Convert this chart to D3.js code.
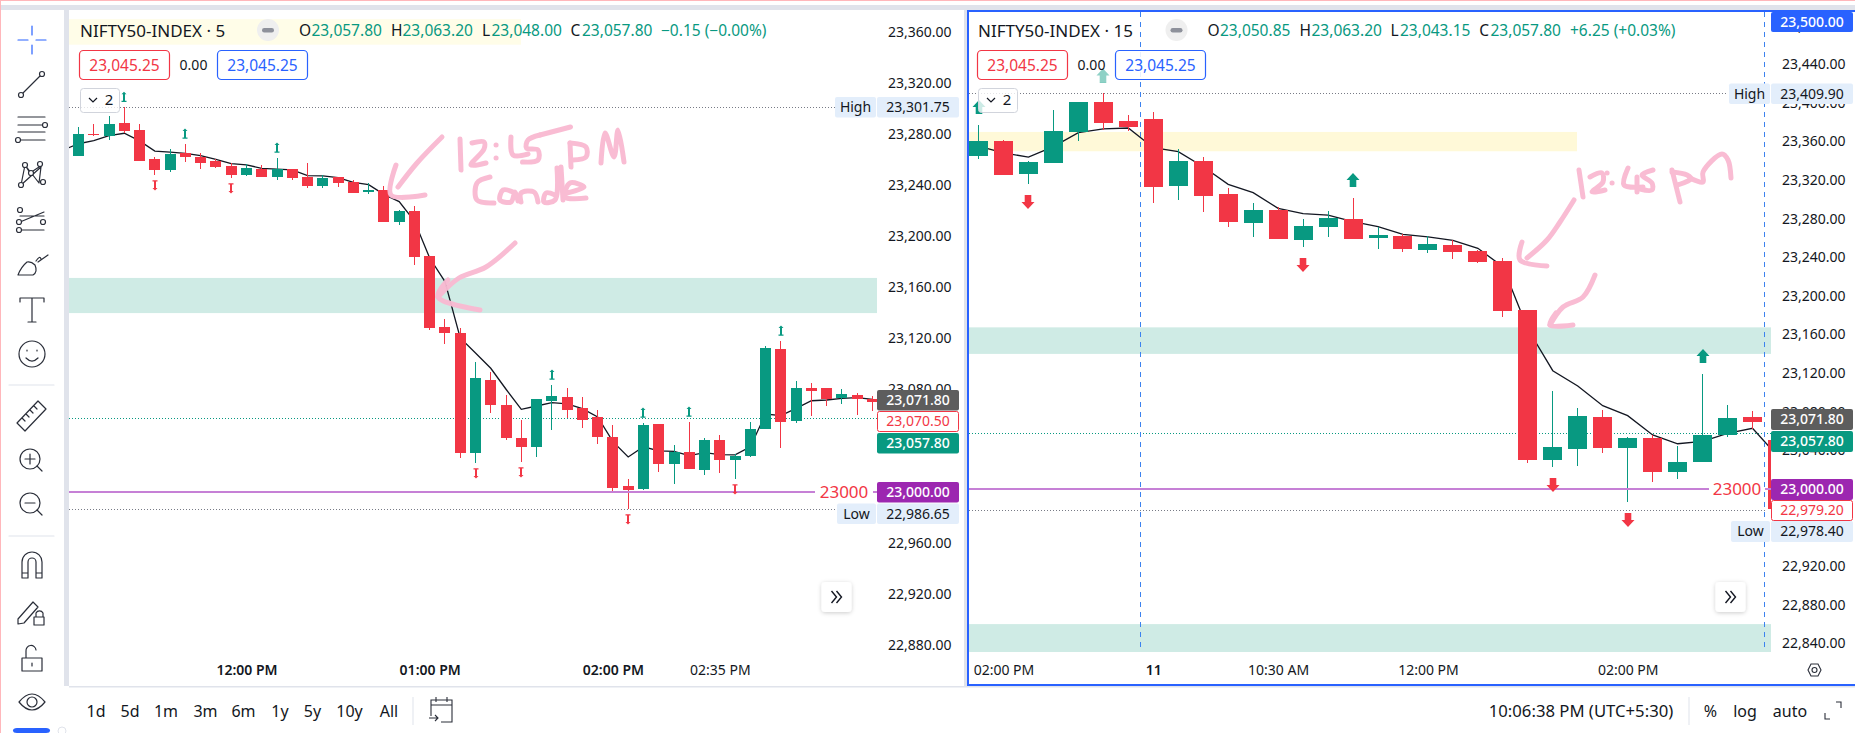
<!DOCTYPE html>
<html><head><meta charset="utf-8">
<script src="https://cdn.jsdelivr.net/npm/d3@7/dist/d3.min.js"></script>
<style>
html,body{margin:0;padding:0;background:#fff;overflow:hidden}
svg{display:block}
text{font-family:"Noto Sans",sans-serif;fill:#131722}
</style></head><body>
<svg id="c" width="1855" height="733"></svg>
<script>
// ---------- data: 5 minute pane ----------
const leftOpen=[23263.2,23279.9,23278.6,23288.7,23283.3,23260.6,23252,23265,23262.1,23259,23255.1,23248,23252.7,23246.5,23252.7,23246.5,23239.4,23246.5,23242.6,23235,23236.3,23211.3,23219.9,23184.7,23129.1,23124.4,23030.5,23087.6,23068.1,23042.3,23035.2,23071.2,23074.3,23065.7,23058.7,23043,23004.7,23002.3,23053.2,23021.9,23031.3,23017.2,23040.7,23025,23028.2,23049.3,23111.9,23055.6,23081.4,23081.4,23073.6,23075.9,23072.8];
const leftHigh=[23285.6,23288,23294.2,23301,23288,23261.9,23268.2,23272.3,23265,23260.3,23257.2,23256.7,23255.9,23261.4,23252.7,23257.4,23248,23246.5,23244.1,23241.8,23239.4,23220.7,23223.8,23184.7,23135.4,23128.3,23101.7,23093.9,23075.9,23056.3,23072.8,23083.7,23081.4,23074.3,23064.2,23052.4,23010.2,23054,23053.2,23036.8,23054.8,23042.3,23044.6,23029.7,23054.8,23114.2,23118.2,23086.9,23085.3,23081.4,23080.6,23077.5,23075.1];
const leftLow=[23263.2,23278.8,23275.4,23280.7,23259,23248,23250.4,23258.2,23252.7,23253.5,23245.7,23247.3,23246.5,23244.1,23244.1,23237.9,23237.9,23238.7,23234,23233.2,23211.3,23208.9,23177.6,23126.8,23115.8,23026.6,23022.7,23061.8,23040.7,23023.5,23027.4,23048.5,23057.9,23050.1,23037.6,23000.8,22986.65,23001.6,23015.7,23006.3,23018,23013.3,23014.9,23010.2,23027.4,23049.3,23034.4,23054,23059.5,23067.3,23068.9,23060.3,23063.4];
const leftClose=[23280.1,23279.1,23288,23282.5,23259,23252,23264.5,23262.1,23257.4,23254.3,23248,23253.5,23246.5,23252.7,23245.7,23239.4,23245.7,23241.8,23234,23236.3,23211.3,23219.9,23183.9,23128.3,23124.4,23030.5,23089.2,23068.1,23042.3,23035.2,23072.8,23075.1,23064.2,23056.3,23043,23003.1,23001.6,23052.4,23021.9,23031.3,23018,23040.7,23025,23028.2,23049.3,23112.7,23054.8,23081.4,23079,23072.8,23076.7,23072.8,23070.5];
// moving average; first entry is the bar just left of the visible pane
const leftAvg=[23267.6,23272.5,23274.9,23278.8,23280.7,23274.7,23266.8,23266,23265,23263.2,23260.3,23256.9,23255.9,23253.3,23252.7,23252,23247.5,23247.3,23246,23242.3,23240.5,23232.9,23227.2,23212,23183.1,23164.6,23120.5,23108.8,23096.8,23080.4,23064.7,23067.3,23069.9,23068.9,23065.2,23058.7,23039.4,23027.4,23035.4,23032.1,23031.8,23028.4,23030.8,23029.2,23029,23035.4,23061,23059.7,23065.5,23071.4,23072,23073.3,23073.8,23072.5,23068.1];
const leftUpMarks=[3,7,13,31,37,40,46];
const leftDownMarks=[5,10,26,29,36,43];
const leftTicks=[23360,23320,23280,23240,23200,23160,23120,23080,23040,23000,22960,22920,22880];
const leftTimeIdx=[11,23,35,42];
const leftTimeText=["12:00 PM","01:00 PM","02:00 PM","02:35 PM"];
const leftTimeBold=[1,1,1,0];

// ---------- data: 15 minute pane ----------
const rightOpen=[23345.1,23360.6,23326.4,23337.8,23370,23401,23381.4,23383.4,23314,23339.9,23305.7,23275.6,23289.1,23258,23271.5,23279.8,23260.1,23262.2,23247.7,23252.8,23246.6,23236.3,23185.5,23030.1,23041.5,23074.6,23042.5,23052.9,23017.6,23028,23056,23074.6,23050.8];
const rightHigh=[23377.2,23361.7,23339.9,23392.8,23401,23409.9,23387.6,23390.7,23352,23344,23312,23296.4,23292.2,23279.8,23288.1,23301.6,23271.5,23264.3,23262.2,23258,23247.7,23239.4,23185.5,23101.6,23083.9,23081.9,23053.9,23056,23044.6,23119.2,23087,23080.8,23050.8];
const rightLow=[23342,23325.4,23316.1,23337.8,23360.6,23372,23371,23296.4,23299.5,23287,23271.5,23261.2,23259,23250.8,23261.2,23259,23248.7,23245.6,23244.6,23238.3,23233.8,23178.6,23026.9,23022.8,23023.8,23037.3,22986.5,23007.3,23010.4,23028,23053.9,23062.2,22978.4];
const rightClose=[23360.6,23325.4,23338.9,23371,23401,23379.3,23375.1,23313,23339.9,23303.6,23276.7,23289.1,23259,23272.5,23280.8,23259,23263.2,23248.7,23253.9,23245.6,23235.2,23184.5,23030.1,23043.5,23075.6,23042.5,23052.9,23017.6,23028,23056,23073.6,23069.4,22979.2];
const rightAvg=[23355.4,23348.2,23344,23354.8,23369.3,23373.1,23374.1,23353.7,23349.6,23334,23315.7,23307.1,23290.9,23285.3,23283.9,23277.1,23271.9,23263.9,23261.2,23257.7,23249.4,23230.4,23165.8,23122.6,23106.7,23086.3,23076,23056,23046.9,23049.4,23057.7,23062.9,23034.2];
const rightUpMarks=[0,5,15,29];
const rightDownMarks=[2,13,23,26];
const rightTicks=[23480,23440,23400,23360,23320,23280,23240,23200,23160,23120,23080,23040,23000,22960,22920,22880,22840];
const rightTimeIdx=[1,7,12,18,26];
const rightTimeText=["02:00 PM","11","10:30 AM","12:00 PM","02:00 PM"];
const rightTimeBold=[0,1,0,0,0];

// levels and zones
const lastPrice=23057.8;
const roundLevel=23000;
const yellowZone=[23370,23350];
const greenZone=[23167.5,23140];
const lowerZone=[22860,22831];
const leftHighLine=23301, leftLowLine=22986.65;
const rightHighLine=23409.9, rightLowLine=22978.4;
const rangeButtons=["1d","5d","1m","3m","6m","1y","5y","10y","All"];

const RED="#F23645",GREEN="#089981",BLUE="#2962FF",PURPLE="#9C27B0",INK="#131722",GRID="#E0E3EB";
const svg=d3.select("#c");
const defs=svg.append("defs");
const shadow=defs.append("filter").attr("id","sh").attr("x","-30%").attr("y","-30%").attr("width","160%").attr("height","160%");
shadow.append("feDropShadow").attr("dx",0).attr("dy",1).attr("stdDeviation",2).attr("flood-color","#000").attr("flood-opacity",.2);

// ---------- page frame ----------
function rect(g,x,y,w,h,f,extra){const r=g.append("rect").attr("x",x).attr("y",y).attr("width",w).attr("height",h).attr("fill",f);if(extra)Object.entries(extra).forEach(([k,v])=>r.attr(k,v));return r;}
const frame=svg.append("g");
rect(frame,0,0,1855,733,"#fff");
rect(frame,0,0,1855,1,"#FFB7BB");
rect(frame,0,0,1,733,"#FFB7BB");
rect(frame,1,5,1854,5,GRID);
rect(frame,64,5,5,681,GRID);
rect(frame,1,10,63,723,"#fff",{rx:4});
rect(frame,964,10,4,676,GRID);
rect(frame,69,686,1786,1.5,GRID);

// ---------- panes ----------
function pane(o){
  const x=d3.scaleLinear().domain(o.xDomain).range(o.xRange);
  const y=d3.scaleLinear().domain([roundLevel,roundLevel+100]).range([o.y0,o.y0-100*o.k]);
  const id=o.id;
  defs.append("clipPath").attr("id",id).append("rect").attr("x",o.left).attr("y",10).attr("width",o.right-o.left).attr("height",642);
  const g=svg.append("g");
  const plot=g.append("g").attr("clip-path",`url(#${id})`);
  const zone=(z,xr,c)=>rect(plot,o.left,y(z[0]),xr-o.left,y(z[1])-y(z[0]),c);
  zone(yellowZone,o.yellowEnd,o.yellowColor);
  zone(greenZone,o.right,"#CFEBE5");
  if(o.lower) zone(lowerZone,o.right,"#CFEBE5");
  const dotted=(v,x2,c)=>plot.append("line").attr("x1",o.left).attr("x2",x2).attr("y1",Math.round(y(v))+.5).attr("y2",Math.round(y(v))+.5).attr("stroke",c).attr("stroke-dasharray","1 2");
  dotted(o.hi,o.hiEnd,"#787B86");
  dotted(o.lo,o.loEnd,"#787B86");
  dotted(lastPrice,o.right,GREEN);
  // moving average under the candles
  const line=d3.line().x((d,i)=>x(i+o.avgStart)).y(d=>y(d));
  plot.append("path").attr("d",line(o.avg)).attr("fill","none").attr("stroke","#131722").attr("stroke-width",1.3);
  // candles
  const idx=d3.range(o.open.length);
  const col=i=>o.close[i]>=o.open[i]?GREEN:RED;
  const snap=v=>Math.round(v);
  plot.selectAll(null).data(idx).join("rect").attr("x",i=>snap(x(i)-.5)).attr("width",1)
    .attr("y",i=>y(o.high[i])).attr("height",i=>y(o.low[i])-y(o.high[i])).attr("fill",col).attr("shape-rendering","crispEdges");
  plot.selectAll(null).data(idx).join("rect").attr("x",i=>snap(x(i)-.5)-o.bw).attr("width",o.bw*2+1)
    .attr("y",i=>y(Math.max(o.open[i],o.close[i]))).attr("height",i=>Math.max(1,Math.abs(y(o.open[i])-y(o.close[i])))).attr("fill",col).attr("shape-rendering","crispEdges");
  // round level line and its text
  const yr=Math.round(y(roundLevel));
  rect(plot,o.left,yr-1,o.lvlEnd-o.left,2,"#C680D6");
  rect(plot,o.lvlResume,yr-1,o.right-o.lvlResume,2,"#C680D6");
  plot.append("text").attr("x",(o.lvlEnd+o.lvlResume)/2).attr("y",yr).attr("dy",".35em").attr("text-anchor","middle").attr("font-size",o.lvlFont).style("fill",RED).text("23000");
  // buy/sell arrows
  plot.selectAll(null).data(o.up).join("path").attr("d",o.upShape).attr("fill",GREEN).attr("transform",i=>`translate(${snap(x(i))},${y(o.high[i])-o.mOff})`);
  plot.selectAll(null).data(o.down).join("path").attr("d",o.upShape).attr("fill",RED).attr("transform",i=>`translate(${snap(x(i))},${y(o.low[i])+o.mOff}) scale(1,-1)`);
  // price axis
  const ax=g.append("g").attr("transform",`translate(${o.axisX},0)`).call(d3.axisRight(y).tickValues(o.ticks).tickSize(0).tickFormat(d3.format(",.2f")));
  ax.select(".domain").remove();
  ax.selectAll("text").attr("x",0).attr("dy",".35em").attr("transform","translate(0,-0.7)").attr("text-anchor","middle").style("font-family",'"Noto Sans",sans-serif').style("font-size",o.axFont+"px").style("fill",INK);
  // time axis
  const tx=g.append("g").attr("transform","translate(0,670)").call(d3.axisBottom(x).tickValues(o.timeIdx).tickSize(0).tickFormat((d,i)=>o.timeText[i]));
  tx.select(".domain").remove();
  tx.selectAll("text").attr("y",0).attr("dy",".35em").style("font-family",'"Noto Sans",sans-serif').style("font-size","14px").style("fill",INK).style("font-weight",(d,i)=>o.timeBold[i]?600:400);
  return {g,x,y};
}

const L=pane({id:"pl",left:69,right:877,xDomain:[0,52],xRange:[78.5,872.5],y0:492,k:1.278,
  open:leftOpen,high:leftHigh,low:leftLow,close:leftClose,avg:leftAvg,avgStart:-1,bw:5,
  up:leftUpMarks,down:leftDownMarks,upShape:"M0,-5.5L2.5,-3L1,-3L1,3.5L2.5,3.5L2.5,4.8L-2.5,4.8L-2.5,3.5L-1,3.5L-1,-3L-2.5,-3Z",mOff:10,
  hi:leftHighLine,lo:leftLowLine,hiEnd:835,loEnd:837,yellowEnd:521,yellowColor:"#FFFDE8",
  lvlEnd:815,lvlResume:873,lvlFont:17,axisX:919.7,axFont:14,ticks:leftTicks,
  timeIdx:leftTimeIdx,timeText:leftTimeText,timeBold:leftTimeBold});
const R=pane({id:"pr",left:969,right:1771,xDomain:[0,32],xRange:[978.5,1777.5],y0:489,k:.965,
  open:rightOpen,high:rightHigh,low:rightLow,close:rightClose,avg:rightAvg,avgStart:0,bw:9,lower:true,
  up:rightUpMarks,down:rightDownMarks,upShape:"M0,-7L6.5,0L3.3,0L3.3,7L-3.3,7L-3.3,0L-6.5,0Z",mOff:18,
  hi:rightHighLine,lo:rightLowLine,hiEnd:1727,loEnd:1765,yellowEnd:1577,yellowColor:"#FFF9D8",
  lvlEnd:1709,lvlResume:1765,lvlFont:17,axisX:1813.8,axFont:14,ticks:rightTicks,
  timeIdx:rightTimeIdx,timeText:rightTimeText,timeBold:rightTimeBold});

// crosshair verticals
[1140.5,1764.5].forEach(xp=>svg.append("line").attr("x1",xp).attr("x2",xp).attr("y1",12).attr("y2",652).attr("stroke","#3B82F0").attr("stroke-width",1).attr("stroke-dasharray","5 5"));

// ---------- handwriting ----------
const ink=svg.append("g").attr("fill","none").attr("stroke","#F9BAD2").attr("stroke-linecap","round").attr("stroke-linejoin","round").attr("stroke-width",5).attr("opacity",.96);
const curve=d3.line().curve(d3.curveCatmullRom);
const leftNote=[
 [[442,137],[417,163],[398,187]],[[396,165],[391,195],[425,195]],
 [[460,139],[461,170]],[[472,143],[484,142],[484,149],[471,165],[486,163]],[[496,145]],[[496,158]],
 [[511,137],[513,155],[528,154]],[[540,135],[528,140],[526.5,148],[538,150],[538,160],[522.5,162]],[[540,135],[570.5,127]],
 [[570,143],[571,167]],[[570,143],[586,147],[586,157],[573,160]],[[601,163],[605,133],[614,157],[618,130],[624,162]],
 [[490,177],[477,183],[477,200],[494,203]],[[513,192],[503,190],[500,200],[511,202],[515,192],[518,201]],
 [[521,202],[521,193],[534,192],[538,202]],[[555,195],[546,193],[544,202],[555,200],[557,168]],[[561,167],[563,200]],
 [[567,193],[584,187],[570,183],[565,197],[586,198]]];
const leftNote2=[[[515,243],[486,267],[459,278],[438,297]],[[448,280],[438,297],[480,310]]];
const rightNote=[
 [[1574,200],[1560,222],[1547,240],[1527,258]],[[1522,242],[1520,260],[1547,266]],
 [[1579,170],[1583,197]],[[1590,177],[1602,173],[1603,182],[1592,192],[1605,190]],[[1607,173]],[[1612,183]],
 [[1628,168],[1624,185],[1643,187]],[[1637,177],[1637,192]],[[1653,170],[1642,175],[1652,183],[1652,190],[1640,189]],
 [[1672,170],[1680,202]],[[1672,172],[1687,175],[1691,179],[1677,185]],[[1690,178],[1703,182],[1703,172],[1722,154],[1728,160],[1731,178]]];
const rightNote2=[[[1595,275],[1583,297],[1563,307],[1550,325]],[[1556,313],[1550,325],[1573,325]]];
[leftNote,leftNote2,rightNote,rightNote2].forEach(n=>n.forEach(s=>{
  ink.append("path").attr("d",s.length===1?`M${s[0]}l.1,0`:curve(s));
}));

// ---------- price tags ----------
function tag(x,y,w,h,bg,fg,t,opts={}){
  const g=svg.append("g");
  rect(g,x,y,w,h,bg,{rx:2,...(opts.stroke?{stroke:opts.stroke}:{})});
  g.append("text").attr("x",x+w/2).attr("y",y+h/2).attr("dy",".35em").attr("text-anchor","middle").attr("font-size",14).style("fill",fg).attr("font-weight",opts.w||400).text(t);
}
const HL="#E3EEFB";
tag(835,97,41,20.5,HL,INK,"High"); tag(877,97,82,20.5,HL,INK,"23,301.75");
tag(877,390,82,20.5,"#5D5D5D","#fff","23,071.80",{w:500});
tag(877.5,411.5,81,20,"#fff",RED,"23,070.50",{stroke:RED});
tag(877,433,82,20.5,GREEN,"#fff","23,057.80",{w:500});
tag(877,482,82,20.5,PURPLE,"#fff","23,000.00",{w:500});
tag(837,503.5,39,20.5,HL,INK,"Low"); tag(877,503.5,82,20.5,HL,INK,"22,986.65");

tag(1771,12,82,20,BLUE,"#fff","23,500.00",{w:500});
tag(1729,83.5,41,20.5,HL,INK,"High"); tag(1771,83.5,82,20.5,HL,INK,"23,409.90");
tag(1771,409,82,21,"#5D5D5D","#fff","23,071.80",{w:500});
tag(1771,431,82,21,GREEN,"#fff","23,057.80",{w:500});
tag(1771,479,82,21,PURPLE,"#fff","23,000.00",{w:500});
tag(1771.5,500.5,81,20,"#fff",RED,"22,979.20",{stroke:RED});
tag(1731,521,39,21,HL,INK,"Low"); tag(1771,521,82,21,HL,INK,"22,978.40");

// ---------- legends ----------
function legend(o){
  const g=svg.append("g");
  rect(g,o.bx1-1,48,o.bx3+90-o.bx1+2,34,"#fff",{opacity:.55});
  g.append("text").attr("x",o.titleX).attr("y",31).attr("dy",".35em").attr("font-size",17).style("fill",INK).text(o.title);
  g.append("circle").attr("cx",o.cx).attr("cy",30).attr("r",11).attr("fill","#EFEFEF");
  rect(g,o.cx-6,28,12,4.5,"#8E919B",{rx:2.2});
  o.ohlc.forEach(([a,ax,v,vx])=>{
    g.append("text").attr("x",ax).attr("y",31).attr("dy",".35em").attr("font-size",15.5).style("fill",INK).text(a);
    g.append("text").attr("x",vx).attr("y",31).attr("dy",".35em").attr("font-size",15.5).style("fill",GREEN).text(v);
  });
  g.append("text").attr("x",o.chgX).attr("y",31).attr("dy",".35em").attr("font-size",15.5).style("fill",GREEN).text(o.chg);
  const box=(x,c)=>{rect(g,x+.5,50.5,90,29,"#fff",{rx:4,stroke:c,"stroke-width":1.2,"fill-opacity":.75});
    g.append("text").attr("x",x+45.5).attr("y",65.5).attr("dy",".35em").attr("text-anchor","middle").attr("font-size",15.5).style("fill",c).text("23,045.25");};
  box(o.bx1,RED); box(o.bx3,BLUE);
  g.append("text").attr("x",o.zeroX).attr("y",65.5).attr("dy",".35em").attr("text-anchor","middle").attr("font-size",14).style("fill",INK).text("0.00");
  rect(g,o.bx1+1.5,88.5,39,24,"#fff",{rx:3,stroke:"#D1D4DC","fill-opacity":.8});
  g.append("path").attr("d",`M${o.bx1+10},98l4,4l4,-4`).attr("fill","none").attr("stroke",INK).attr("stroke-width",1.2);
  g.append("text").attr("x",o.bx1+30).attr("y",100).attr("dy",".35em").attr("text-anchor","middle").attr("font-size",15).style("fill",INK).text("2");
}
legend({title:"NIFTY50-INDEX · 5",titleX:80,cx:268,bx1:79,bx3:217,zeroX:193.5,chgX:661,chg:"−0.15 (−0.00%)",
 ohlc:[["O",299,"23,057.80",311.5],["H",391,"23,063.20",402.5],["L",482,"23,048.00",491.5],["C",570.5,"23,057.80",582]]});
legend({title:"NIFTY50-INDEX · 15",titleX:978,cx:1176.5,bx1:977,bx3:1115,zeroX:1091.5,chgX:1570,chg:"+6.25 (+0.03%)",
 ohlc:[["O",1207.5,"23,050.85",1220],["H",1299.5,"23,063.20",1311.5],["L",1390.5,"23,043.15",1400],["C",1479.3,"23,057.80",1490.5]]});

// right pane selected frame (over everything in the pane)
const sel=svg.append("g").attr("fill",BLUE);
rect(sel,967,10,2,676,BLUE); rect(sel,967,10,888,2,BLUE); rect(sel,967,684,888,2,BLUE);

// scroll buttons
[836.5,1730.5].forEach(cx=>{
  const g=svg.append("g").attr("transform",`translate(${cx},597)`);
  rect(g,-15,-15,30,30,"#fff",{rx:4,filter:"url(#sh)"});
  g.append("path").attr("d","M-5,-6L0,0L-5,6M0,-6L5,0L0,6").attr("fill","none").attr("stroke",INK).attr("stroke-width",1.4);
});

// ---------- left toolbar ----------
const tb=svg.append("g").attr("fill","none").attr("stroke","#2A2E39").attr("stroke-width",1.2).attr("stroke-linecap","round").attr("stroke-linejoin","round");
const P=(d,c)=>{const p=tb.append("path").attr("d",d);if(c)p.attr("stroke",c);return p;};
const C=(x,y,r)=>tb.append("circle").attr("cx",x).attr("cy",y).attr("r",r).attr("fill","#fff");
P("M18,40H28M36,40H46M32,26V35M32,45V54",BLUE);
P("M21,95L42,74");C(21,95,2.5);C(42,74,2.5);
P("M18,117H45M18,125H42M18,132H45M21,140H45");C(45,125,2.5);C(18,140,2.5);
P("M21,185L25,165L39,183L41,167L21,185M25,165L30,173M30,173L39,167");C(21,185,2.5);C(25,165,2.5);C(40,164,2.5);C(43,182,2.5);C(31,173,2.5);
P("M20,216H44M20,222L44,212M20,230H44",null);C(20,210,2.5);C(19,222,2.5);C(43,222,2.5);C(19,230,2.5);
P("M18,275H33Q38,272 35,265Q31,261 27,262Q21,267 18,275ZM36,261Q40,255 41,259M38,262L48,255");
P("M20,302V298H44V302M32,298V322M28,322H36");
C(32,354,13);P("M27,350V351M37,350V351M26,358Q32,364 38,358");
P("M9,385H54","#E0E3EB");
P("M17,423L38,401L46,409L25,431ZM22,418L25,421M26,414L29,417M30,410L33,413M34,406L37,409");
C(30,459,10);P("M30,454V464M25,459H35M37,466L42,471");
C(30,503,10);P("M25,503H35M37,510L42,515");
P("M9,536H54","#E0E3EB");
P("M22,578V562A10,10 0 0 1 42,562V578H36V562A4,4 0 0 0 28,562V578ZM22,573H28M36,573H42");
P("M18,619L33,602L38,607L24,623L18,624ZM36,617V613A4,4 0 0 1 43,613V617M34,617H44V625H34Z");
P("M22,658H42V671H22ZM26,658V651A5,5 0 0 1 36,650M32,663V666");
P("M19,702Q32,686 45,702Q32,718 19,702Z");C(32,702,5);
rect(svg,13,728,37,5,BLUE,{rx:4});
svg.append("circle").attr("cx",62).attr("cy",731).attr("r",4).attr("fill","#fff").attr("stroke","#E0E3EB");

// ---------- bottom bar ----------
const bx=[96,130,166,205.5,243.5,280,312.5,349.5,389];
rangeButtons.forEach((t,i)=>svg.append("text").attr("x",bx[i]).attr("y",711).attr("dy",".35em").attr("text-anchor","middle").attr("font-size",16).text(t));
rect(svg,412.5,697,1,28,GRID);
const bb=svg.append("g").attr("fill","none").attr("stroke","#2A2E39").attr("stroke-width",1.1);
bb.append("path").attr("d","M431,716V700H452V722H441M431,705H452M436,697V702M447,697V702M429,718H438M435,715L438,718L435,721");
svg.append("text").attr("x",1581).attr("y",711).attr("dy",".35em").attr("text-anchor","middle").attr("font-size",16.7).text("10:06:38 PM (UTC+5:30)");
rect(svg,1688.5,697,1,28,GRID);
[["%",1710.5],["log",1745],["auto",1790]].forEach(([t,x])=>svg.append("text").attr("x",x).attr("y",711).attr("dy",".35em").attr("text-anchor","middle").attr("font-size",16).text(t));
bb.append("path").attr("d","M1825,713V719H1830M1836,702H1841V708");
bb.append("path").attr("d","M1808,670L1811,664H1818L1821,670L1818,676H1811Z");
bb.append("circle").attr("cx",1814.5).attr("cy",670).attr("r",2.5);
</script></body></html>
